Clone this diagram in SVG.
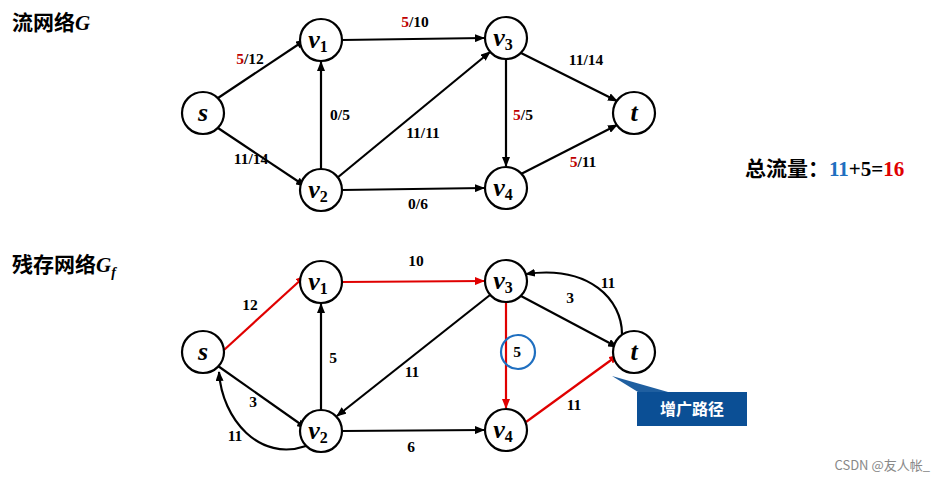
<svg xmlns="http://www.w3.org/2000/svg" width="943" height="481" viewBox="0 0 943 481">
<style>
.n{fill:#fff;stroke:#000;stroke-width:2.2}
.nl{font-family:"Liberation Serif",serif;font-style:italic;font-weight:bold;font-size:26px;text-anchor:middle}
.sub{font-size:16px;font-style:normal;font-weight:bold}
.e{stroke:#000;stroke-width:2.2;fill:none;marker-end:url(#a)}
.r{stroke:#e00000;stroke-width:2.2;fill:none;marker-end:url(#ar)}
.l{font-family:"Liberation Serif",serif;font-weight:bold;font-size:15.5px;text-anchor:middle}
.red{fill:#c00000}
.t{font-family:"Noto Sans CJK SC",sans-serif;font-weight:bold;font-size:21px}
</style>
<defs>
<marker id="a" markerWidth="10" markerHeight="8" refX="9" refY="4" orient="auto" markerUnits="userSpaceOnUse"><path d="M0,0L10,4L0,8z"/></marker>
<marker id="ar" markerWidth="10" markerHeight="8" refX="9" refY="4" orient="auto" markerUnits="userSpaceOnUse"><path d="M0,0L10,4L0,8z" fill="#e00000"/></marker>
</defs>
<rect width="943" height="481" fill="#fff"/>
<text class="t" x="12" y="30">流网络<tspan font-family="Liberation Serif,serif" font-style="italic">G</tspan></text>
<text class="t" x="12" y="272">残存网络<tspan font-family="Liberation Serif,serif" font-style="italic">G<tspan font-size="14" dy="5">f</tspan></tspan></text>
<text class="t" x="745" y="176">总流量：<tspan font-family="Liberation Serif,serif" fill="#1f6fc0">11</tspan><tspan font-family="Liberation Serif,serif">+5=</tspan><tspan font-family="Liberation Serif,serif" fill="#e00000">16</tspan></text>
<g id="connectors">
<line class="e" x1="218" y1="98" x2="305" y2="40"/>
<line class="e" x1="218" y1="128" x2="305" y2="186"/>
<line class="e" x1="321" y1="169" x2="321" y2="62"/>
<line class="e" x1="342" y1="40" x2="484" y2="38"/>
<line class="e" x1="337" y1="178" x2="490" y2="52"/>
<line class="e" x1="342" y1="190" x2="484" y2="188"/>
<line class="e" x1="506" y1="59" x2="506" y2="166"/>
<line class="e" x1="521" y1="53" x2="617" y2="101"/>
<line class="e" x1="521" y1="174" x2="617" y2="125"/>
<line class="r" x1="224" y1="350" x2="305" y2="276"/>
<line class="e" x1="218" y1="366" x2="306" y2="428"/>
<path class="e" d="M306,446 C260,462 222,420 219,372"/>
<line class="e" x1="321" y1="410" x2="321" y2="304"/>
<line class="r" x1="342" y1="282" x2="484" y2="281"/>
<line class="e" x1="490" y1="295" x2="337" y2="416"/>
<line class="e" x1="342" y1="431" x2="484" y2="430"/>
<line class="r" x1="506" y1="302" x2="506" y2="408"/>
<line class="e" x1="521" y1="296" x2="617" y2="347"/>
<path class="e" d="M622,334 C622,300 590,265 526,274"/>
<line class="r" x1="526" y1="422" x2="618" y2="355"/>
</g>
<g id="labels">
<text class="l" x="250" y="64"><tspan class="red">5</tspan>/12</text>
<text class="l" x="251" y="164">11/14</text>
<text class="l" x="340" y="120">0/5</text>
<text class="l" x="415" y="27"><tspan class="red">5</tspan>/10</text>
<text class="l" x="423" y="138">11/11</text>
<text class="l" x="418" y="209">0/6</text>
<text class="l" x="523" y="120"><tspan class="red">5</tspan>/5</text>
<text class="l" x="586" y="65">11/14</text>
<text class="l" x="583" y="167"><tspan class="red">5</tspan>/11</text>
<text class="l" x="250" y="310">12</text>
<text class="l" x="253" y="407">3</text>
<text class="l" x="235" y="441">11</text>
<text class="l" x="333" y="363">5</text>
<text class="l" x="416" y="266">10</text>
<text class="l" x="412" y="377">11</text>
<text class="l" x="411" y="452">6</text>
<text class="l" x="517" y="357">5</text>
<text class="l" x="570" y="303">3</text>
<text class="l" x="608" y="288">11</text>
<text class="l" x="574" y="410">11</text>
</g>
<circle cx="518" cy="352" r="17" fill="none" stroke="#1f6fc0" stroke-width="2.2"/>
<g id="callout">
<path d="M612,376 L668,392 L638,392 Z" fill="#1f5fa0"/>
<rect x="637" y="392" width="110" height="34" fill="#0b4f95"/>
<text x="692" y="415" font-family="Noto Sans CJK SC,sans-serif" font-weight="bold" font-size="16" fill="#fff" text-anchor="middle">增广路径</text>
</g>
<g id="s1"><circle class="n" cx="203" cy="113" r="21"/><text class="nl" x="203" y="121">s</text></g>
<g id="v1a"><circle class="n" cx="321" cy="40" r="21"/><text class="nl" x="318" y="48">v<tspan class="sub" dy="4">1</tspan></text></g>
<g id="v2a"><circle class="n" cx="321" cy="190" r="21"/><text class="nl" x="318" y="198">v<tspan class="sub" dy="4">2</tspan></text></g>
<g id="v3a"><circle class="n" cx="506" cy="38" r="21"/><text class="nl" x="503" y="46">v<tspan class="sub" dy="4">3</tspan></text></g>
<g id="v4a"><circle class="n" cx="506" cy="188" r="21"/><text class="nl" x="503" y="196">v<tspan class="sub" dy="4">4</tspan></text></g>
<g id="t1"><circle class="n" cx="634" cy="113" r="21"/><text class="nl" x="634" y="121">t</text></g>
<g id="s2"><circle class="n" cx="203" cy="352" r="21"/><text class="nl" x="203" y="360">s</text></g>
<g id="v1b"><circle class="n" cx="321" cy="282" r="21"/><text class="nl" x="318" y="290">v<tspan class="sub" dy="4">1</tspan></text></g>
<g id="v2b"><circle class="n" cx="321" cy="431" r="21"/><text class="nl" x="318" y="439">v<tspan class="sub" dy="4">2</tspan></text></g>
<g id="v3b"><circle class="n" cx="506" cy="281" r="21"/><text class="nl" x="503" y="289">v<tspan class="sub" dy="4">3</tspan></text></g>
<g id="v4b"><circle class="n" cx="506" cy="430" r="21"/><text class="nl" x="503" y="438">v<tspan class="sub" dy="4">4</tspan></text></g>
<g id="t2"><circle class="n" cx="634" cy="352" r="21"/><text class="nl" x="634" y="360">t</text></g>
<text x="930" y="470" font-family="Noto Sans CJK SC,sans-serif" font-size="13" fill="#888" text-anchor="end">CSDN @友人帐_</text>
</svg>
